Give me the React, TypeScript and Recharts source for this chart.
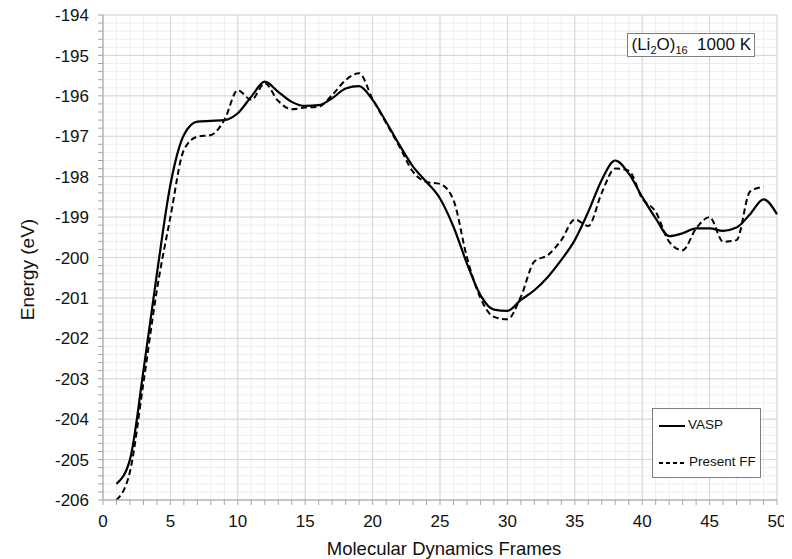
import React from 'react';
import {
  LineChart,
  Line,
  XAxis,
  YAxis,
  CartesianGrid,
  ReferenceLine,
  Legend,
  Label,
} from 'recharts';

const frames = [
  1, 2, 3, 4, 5, 6, 7, 8, 9, 10, 11, 12, 13, 14, 15, 16, 17, 18, 19, 20, 21, 22, 23, 24, 25,
  26, 27, 28, 29, 30, 31, 32, 33, 34, 35, 36, 37, 38, 39, 40, 41, 42, 43, 44, 45, 46, 47, 48,
  49, 50,
];

const vasp = [
  -205.6, -205.0, -202.8, -200.4, -198.2, -196.97, -196.64, -196.62, -196.6, -196.43, -196.02,
  -195.65, -195.9, -196.15, -196.25, -196.23, -196.06, -195.82, -195.76, -196.1, -196.64,
  -197.22, -197.75, -198.13, -198.54, -199.24, -200.15, -200.93, -201.29, -201.32, -201.05,
  -200.81, -200.48, -200.06, -199.57, -198.87, -198.08, -197.6, -197.92, -198.5, -199.03,
  -199.47, -199.4, -199.28, -199.28, -199.34, -199.26, -198.93, -198.56, -198.93,
];

const presentFF = [
  -206.0, -205.3, -203.1, -200.8, -199.0, -197.34, -197.01, -196.97, -196.6, -195.86, -196.1,
  -195.69, -196.13, -196.33, -196.29, -196.27, -195.98, -195.61, -195.44, -196.08, -196.67,
  -197.26, -197.88, -198.13, -198.18, -198.58, -200.0, -201.0, -201.47, -201.53, -200.97,
  -200.1, -199.94, -199.57, -199.06, -199.22, -198.4, -197.8, -197.85, -198.54, -198.87,
  -199.61, -199.82, -199.28, -199.0, -199.61, -199.57, -198.37, -198.25,
];

const xMajorTicks = [0, 5, 10, 15, 20, 25, 30, 35, 40, 45, 50];
const yMajorTicks = [-206, -205, -204, -203, -202, -201, -200, -199, -198, -197, -196, -195, -194];

const xMinorTicks: number[] = [];
for (let i = 0; i <= 50; i++) xMinorTicks.push(i);
const yMinorTicks: number[] = [];
for (let i = 0; i <= 60; i++) yMinorTicks.push(Math.round((-206 + i * 0.2) * 10) / 10);

const data = frames.map((f, i) => ({
  frame: f,
  vasp: vasp[i],
  ff: i < presentFF.length ? presentFF[i] : null,
}));

const FONT = '"Liberation Sans", Arial, sans-serif';
const MAJOR_GRID = '#d6d6d6';
const MINOR_GRID = '#eeeeee';
const AXIS_GRAY = '#a6a6a6';

const isInt = (v: number) => Math.abs(v - Math.round(v)) < 1e-6;

const YTick = (props: any) => {
  const { x, y, payload } = props;
  const v = payload.value;
  if (!isInt(v)) return <g />;
  return (
    <text x={x} y={y} dy="0.36em" textAnchor="end" fontFamily={FONT} fontSize={17} fill="#111">
      {Math.round(v)}
    </text>
  );
};

const XTick = (props: any) => {
  const { x, y, payload } = props;
  const v = payload.value;
  if (v % 5 !== 0) return <g />;
  return (
    <text x={x} y={y} dy={20} textAnchor="middle" fontFamily={FONT} fontSize={17} fill="#111">
      {v}
    </text>
  );
};

const LegendBox = () => (
  <div
    style={{
      width: 109,
      height: 70,
      boxSizing: 'border-box',
      border: '1px solid #7f7f7f',
      background: '#fff',
      fontFamily: FONT,
      fontSize: 13.5,
      color: '#111',
      position: 'relative',
    }}
  >
    <svg width={30} height={10} style={{ position: 'absolute', left: 6, top: 12 }}>
      <line x1={0} y1={5} x2={26} y2={5} stroke="#000" strokeWidth={2} />
    </svg>
    <span style={{ position: 'absolute', left: 35, top: 8 }}>VASP</span>
    <svg width={30} height={10} style={{ position: 'absolute', left: 6, top: 49 }}>
      <line x1={0} y1={5} x2={28} y2={5} stroke="#000" strokeWidth={2} strokeDasharray="4 3" />
    </svg>
    <span style={{ position: 'absolute', left: 36, top: 45 }}>Present FF</span>
  </div>
);

const subStyle: React.CSSProperties = { fontSize: 11, verticalAlign: '-4px', lineHeight: 0 };

export default function App() {
  return (
    <div
      style={{
        position: 'relative',
        width: 792,
        height: 559,
        marginLeft: -8,
        marginTop: -8,
        background: '#fff',
      }}
    >
      <LineChart
        width={792}
        height={559}
        data={data}
        margin={{ top: 15, right: 15, bottom: 0, left: 0 }}
      >
        <CartesianGrid stroke={MINOR_GRID} strokeWidth={1} />
        {xMajorTicks.map((t) => (
          <ReferenceLine key={'x' + t} x={t} stroke={MAJOR_GRID} strokeWidth={1} />
        ))}
        {yMajorTicks.map((t) => (
          <ReferenceLine key={'y' + t} y={t} stroke={MAJOR_GRID} strokeWidth={1} />
        ))}
        <XAxis
          dataKey="frame"
          type="number"
          domain={[0, 50]}
          ticks={xMinorTicks}
          interval={0}
          height={59}
          tickSize={5}
          tickMargin={2}
          stroke={AXIS_GRAY}
          tick={<XTick />}
        >
          <Label
            content={(p: any) => {
              const vb = p.viewBox;
              return (
                <text
                  x={vb.x + vb.width / 2 + 4}
                  y={vb.y + 55}
                  textAnchor="middle"
                  fontFamily={FONT}
                  fontSize={18.5}
                  fill="#111"
                >
                  Molecular Dynamics Frames
                </text>
              );
            }}
          />
        </XAxis>
        <YAxis
          type="number"
          domain={[-206, -194]}
          ticks={yMinorTicks}
          interval={0}
          width={103}
          tickSize={5}
          tickMargin={9}
          stroke={AXIS_GRAY}
          tick={<YTick />}
          allowDataOverflow
        >
          <Label
            content={(p: any) => {
              const vb = p.viewBox;
              const cx = vb.x + 34;
              const cy = vb.y + vb.height / 2 + 12;
              return (
                <text
                  x={cx}
                  y={cy}
                  transform={`rotate(-90 ${cx} ${cy})`}
                  textAnchor="middle"
                  fontFamily={FONT}
                  fontSize={19}
                  fill="#111"
                >
                  Energy (eV)
                </text>
              );
            }}
          />
        </YAxis>
        <Legend
          layout="horizontal"
          verticalAlign="middle"
          align="center"
          content={() => <LegendBox />}
          wrapperStyle={{ position: 'absolute', left: 652, top: 408, width: 109, height: 70 }}
        />
        <Line
          type="monotone"
          dataKey="vasp"
          name="VASP"
          stroke="#000"
          strokeWidth={2.2}
          dot={false}
          isAnimationActive={false}
        />
        <Line
          type="monotone"
          dataKey="ff"
          name="Present FF"
          stroke="#000"
          strokeWidth={2}
          strokeDasharray="6 3.5"
          dot={false}
          connectNulls={false}
          isAnimationActive={false}
        />
      </LineChart>
      <div
        style={{
          position: 'absolute',
          left: 627,
          top: 33,
          width: 128,
          height: 24,
          boxSizing: 'border-box',
          border: '1px solid #7f7f7f',
          background: '#fff',
          fontFamily: FONT,
          fontSize: 17,
          color: '#111',
          lineHeight: '21px',
          textAlign: 'right',
          paddingRight: 3,
          whiteSpace: 'nowrap',
        }}
      >
        (Li<sub style={subStyle}>2</sub>O)<sub style={subStyle}>16</sub>
        {'\u00a0\u00a0'}1000 K
      </div>
    </div>
  );
}
